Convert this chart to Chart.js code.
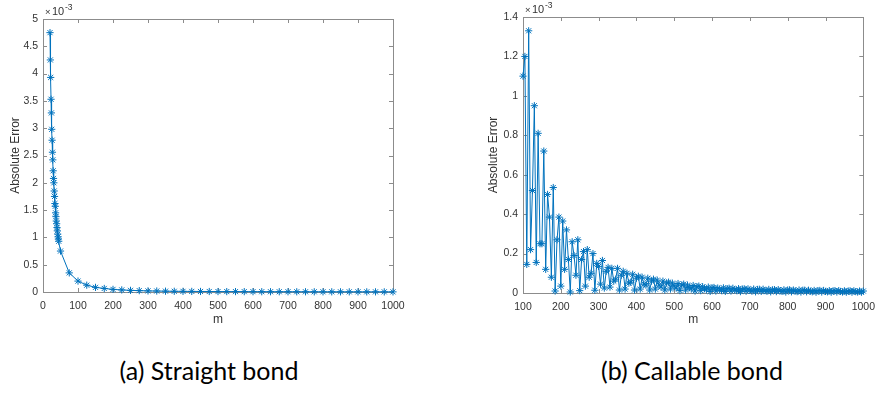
<!DOCTYPE html>
<html>
<head>
<meta charset="utf-8">
<script src="https://cdn.jsdelivr.net/npm/chart.js@4/dist/chart.umd.min.js"></script>
<style>
  html, body { margin: 0; padding: 0; background: #fff; }
  body { width: 883px; height: 393px; position: relative; overflow: hidden; }
  .box { position: absolute; top: 0; height: 330px; }
  #leftBox { left: 0; width: 440px; }
  #rightBox { left: 460px; width: 423px; }
  .cap { position: absolute; top: 355px; font-family: Lato, "Open Sans", sans-serif; font-size: 25px; line-height: 30px; color: #000; white-space: nowrap; transform: translateX(-50%); }
</style>
</head>
<body>
<div class="box" id="leftBox"><canvas id="leftChart"></canvas></div>
<div class="box" id="rightBox"><canvas id="rightChart"></canvas></div>
<div class="cap" style="left:209px">(a) Straight bond</div>
<div class="cap" style="left:692px">(b) Callable bond</div>
<script>
// values are in units of 1e-3
const leftM = [20, 21, 22, 23, 24, 25, 26, 27, 28, 29, 30, 31, 32, 33, 34, 35, 36, 37, 38, 39, 40, 41, 42, 43, 44, 45, 50,
  75, 100, 125, 150, 175, 200, 225, 250, 275, 300, 325, 350, 375, 400, 425, 450, 475, 500, 525, 550, 575, 600,
  625, 650, 675, 700, 725, 750, 775, 800, 825, 850, 875, 900, 925, 950, 975, 1000];
const leftErr = [4.75, 4.25, 3.93, 3.53, 3.28, 2.98, 2.78, 2.56, 2.42, 2.22, 2.08, 2.0, 1.85, 1.75, 1.62, 1.57, 1.45, 1.38, 1.3, 1.25, 1.18, 1.12, 1.06, 1.01, 0.97, 0.93, 0.75,
  0.35, 0.2, 0.125, 0.085, 0.065, 0.048, 0.038, 0.03, 0.025, 0.02, 0.018, 0.015, 0.013, 0.012, 0.011, 0.01, 0.009, 0.008, 0.0075, 0.007, 0.0065, 0.006,
  0.0055, 0.005, 0.0048, 0.0045, 0.0043, 0.004, 0.0038, 0.0036, 0.0034, 0.0032, 0.003, 0.0029, 0.0028, 0.0027, 0.0026, 0.0025];

const rightM = [
  100, 105, 110, 115, 120, 125, 130, 135, 140, 145,
  150, 155, 160, 165, 170, 175, 180, 185, 190, 195,
  200, 205, 210, 215, 220, 225, 230, 235, 240, 245,
  250, 255, 260, 265, 270, 275, 280, 285, 290, 295,
  300, 305, 310, 315, 320, 325, 330, 335, 340, 345,
  350, 355, 360, 365, 370, 375, 380, 385, 390, 395,
  400, 405, 410, 415, 420, 425, 430, 435, 440, 445,
  450, 455, 460, 465, 470, 475, 480, 485, 490, 495,
  500, 505, 510, 515, 520, 525, 530, 535, 540, 545,
  550, 555, 560, 565, 570, 575, 580, 585, 590, 595,
  600, 605, 610, 615, 620, 625, 630, 635, 640, 645,
  650, 655, 660, 665, 670, 675, 680, 685, 690, 695,
  700, 705, 710, 715, 720, 725, 730, 735, 740, 745,
  750, 755, 760, 765, 770, 775, 780, 785, 790, 795,
  800, 805, 810, 815, 820, 825, 830, 835, 840, 845,
  850, 855, 860, 865, 870, 875, 880, 885, 890, 895,
  900, 905, 910, 915, 920, 925, 930, 935, 940, 945,
  950, 955, 960, 965, 970, 975, 980, 985, 990, 995,
  1000];
const rightErr = [
  1.10, 1.20, 0.145, 1.33, 0.22, 0.52, 0.95, 0.155, 0.81, 0.25,
  0.25, 0.72, 0.12, 0.50, 0.385, 0.08, 0.535, 0.01, 0.27, 0.385,
  0.035, 0.365, 0.12, 0.32, 0.17, 0.005, 0.26, 0.19, 0.09, 0.27,
  0.012, 0.17, 0.21, 0.035, 0.22, 0.08, 0.10, 0.20, 0.014, 0.15,
  0.135, 0.045, 0.165, 0.025, 0.11, 0.13, 0.03, 0.125, 0.06, 0.07,
  0.125, 0.015, 0.09, 0.11, 0.02, 0.10, 0.05, 0.055, 0.095, 0.015,
  0.075, 0.085, 0.02, 0.08, 0.045, 0.04, 0.075, 0.015, 0.06, 0.07,
  0.02, 0.065, 0.04, 0.03, 0.06, 0.015, 0.05, 0.055, 0.02, 0.05,
  0.035, 0.025, 0.048, 0.012, 0.04, 0.045, 0.015, 0.04, 0.028, 0.02,
  0.038, 0.01, 0.032, 0.035, 0.012, 0.032, 0.022, 0.016, 0.03, 0.008,
  0.026, 0.028, 0.01, 0.025, 0.02, 0.012, 0.026, 0.008, 0.022, 0.024,
  0.01, 0.024, 0.016, 0.012, 0.022, 0.007, 0.02, 0.021, 0.009, 0.021,
  0.014, 0.01, 0.02, 0.006, 0.018, 0.019, 0.008, 0.019, 0.012, 0.009,
  0.018, 0.006, 0.016, 0.017, 0.007, 0.017, 0.011, 0.008, 0.016, 0.005,
  0.015, 0.016, 0.006, 0.015, 0.01, 0.007, 0.015, 0.005, 0.014, 0.014,
  0.006, 0.014, 0.009, 0.006, 0.013, 0.004, 0.012, 0.013, 0.005, 0.013,
  0.008, 0.006, 0.012, 0.004, 0.011, 0.012, 0.005, 0.012, 0.008, 0.005,
  0.011, 0.004, 0.01, 0.011, 0.004, 0.011, 0.007, 0.005, 0.01, 0.004,
  0.01];

const lineBlue = "#0072BD";
const axisGray = "#8c8c8c";
const textGray = "#333333";
const tickFont = { family: "'Liberation Sans', Arial, sans-serif", size: 10.5 };
const titleFont = { family: "'Liberation Sans', Arial, sans-serif", size: 12 };

// plain matlab-like tick text: 5, 4.5, 1000
function plainTick(v) {
  return String(Math.round(v * 100) / 100);
}

// matlab style box with inward ticks plus the x10^-3 multiplier
const matlabBox = {
  id: "matlabBox",
  beforeDatasetsDraw(chart) {
    const { ctx, chartArea: a, scales } = chart;
    ctx.save();
    ctx.strokeStyle = axisGray;
    ctx.lineWidth = 1;
    ctx.strokeRect(Math.round(a.left) + 0.5, Math.round(a.top) + 0.5, Math.round(a.right - a.left), Math.round(a.bottom - a.top));
    ctx.beginPath();
    scales.x.ticks.forEach(function (t) {
      const px = Math.round(scales.x.getPixelForValue(t.value)) + 0.5;
      ctx.moveTo(px, a.bottom); ctx.lineTo(px, a.bottom - 4);
      ctx.moveTo(px, a.top); ctx.lineTo(px, a.top + 4);
    });
    scales.y.ticks.forEach(function (t) {
      const py = Math.round(scales.y.getPixelForValue(t.value)) + 0.5;
      ctx.moveTo(a.left, py); ctx.lineTo(a.left + 4, py);
      ctx.moveTo(a.right, py); ctx.lineTo(a.right - 4, py);
    });
    ctx.stroke();
    ctx.restore();
  },
  afterDraw(chart) {
    const { ctx, chartArea: a } = chart;
    ctx.save();
    ctx.fillStyle = textGray;
    ctx.textBaseline = "alphabetic";
    ctx.font = "9.5px 'Liberation Sans', Arial, sans-serif";
    ctx.fillText("\u00d7", a.left + 2, a.top - 4);
    ctx.font = "11px 'Liberation Sans', Arial, sans-serif";
    ctx.fillText("10", a.left + 9, a.top - 4);
    ctx.font = "8.5px 'Liberation Sans', Arial, sans-serif";
    ctx.fillText("-3", a.left + 22, a.top - 9);
    ctx.restore();
  }
};

function makeChart(id, m, err, opt) {
  const ctx = document.getElementById(id).getContext("2d");
  return new Chart(ctx, {
    type: "line",
    data: {
      datasets: [{
        data: m.map(function (v, i) { return { x: v, y: err[i] }; }),
        borderColor: lineBlue,
        borderWidth: 1,
        pointStyle: "star",
        pointRadius: 3.6,
        pointBorderColor: lineBlue,
        pointBorderWidth: 1,
        pointBackgroundColor: lineBlue,
        tension: 0,
        clip: false
      }]
    },
    options: {
      responsive: true,
      maintainAspectRatio: false,
      animation: false,
      events: [],
      layout: { padding: { top: opt.top, right: opt.right, left: 0, bottom: 0 } },
      plugins: { legend: { display: false }, tooltip: { enabled: false } },
      scales: {
        x: {
          type: "linear",
          min: opt.xMin,
          max: 1000,
          grid: { display: false, drawTicks: false },
          border: { display: false },
          ticks: { stepSize: 100, padding: 8, color: textGray, font: tickFont, maxRotation: 0, callback: plainTick },
          title: { display: true, text: "m", color: textGray, font: titleFont, padding: { top: 0, bottom: 3 } },
          afterFit: function (s) { s.height = opt.xh; }
        },
        y: {
          min: 0,
          max: opt.yMax,
          grid: { display: false, drawTicks: false },
          border: { display: false },
          ticks: { stepSize: opt.yStep, padding: 5, color: textGray, font: tickFont, callback: plainTick },
          title: { display: true, text: "Absolute Error", color: textGray, font: titleFont, padding: { top: opt.yt, bottom: 0 } },
          afterFit: function (s) { s.width = opt.yw; }
        }
      }
    },
    plugins: [matlabBox]
  });
}

makeChart("leftChart", leftM, leftErr, { top: 19, right: 47, xMin: 0, yMax: 5, yStep: 0.5, xh: 38, yw: 43, yt: 8 });
makeChart("rightChart", rightM, rightErr, { top: 17, right: 12, xMin: 100, yMax: 1.4, yStep: 0.2, xh: 37, yw: 63, yt: 26 });
</script>
</body>
</html>
